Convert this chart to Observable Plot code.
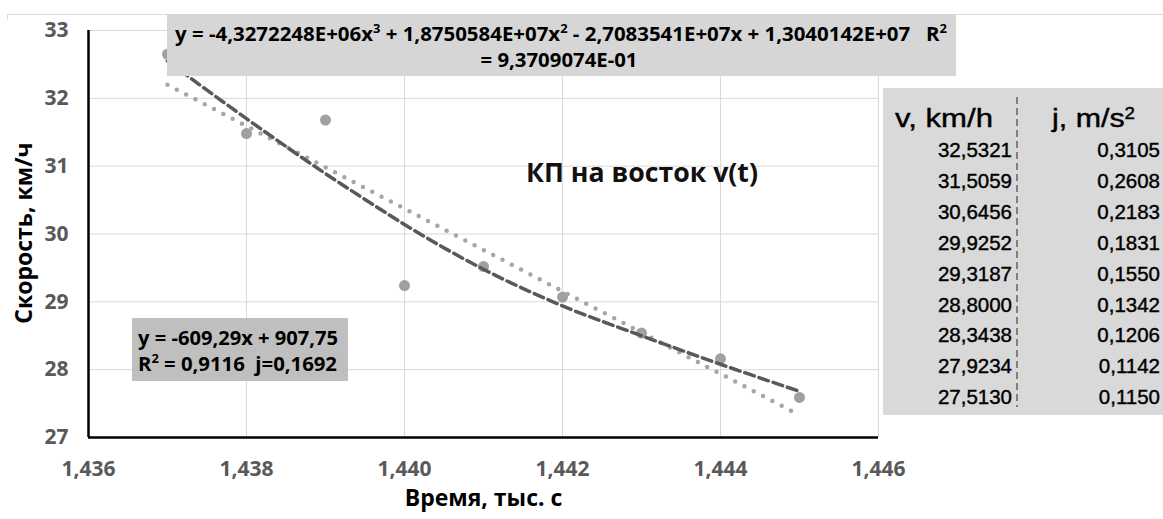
<!DOCTYPE html>
<html>
<head>
<meta charset="utf-8">
<script src="https://cdn.jsdelivr.net/npm/d3@7"></script>
<script src="https://cdn.jsdelivr.net/npm/@observablehq/plot@0.6"></script>
<style>
  html, body { margin: 0; padding: 0; background: #fff; }
  #wrap { position: relative; width: 1163px; height: 519px; overflow: hidden; }
  #wrap svg { display: block; }
</style>
</head>
<body>
<div id="wrap"></div>
<script>
// ---- data ----
const times = [1.437, 1.438, 1.439, 1.440, 1.441, 1.442, 1.443, 1.444, 1.445];
const speeds = [32.65, 31.48, 31.68, 29.24, 29.52, 29.07, 28.54, 28.16, 27.59];

// cubic (polynomial) trend line
const cubicTimes = [1.437, 1.4375, 1.438, 1.4385, 1.439, 1.4395, 1.440, 1.441, 1.442, 1.443, 1.444, 1.445];
const cubicSpeeds = [32.55, 32.12, 31.70, 31.29, 30.89, 30.51, 30.14, 29.48, 28.94, 28.50, 28.08, 27.68];

// linear trend line, read at its two ends (dotted)
const linearTimes = [1.437, 1.445];
const linearSpeeds = [32.20, 27.33];

const xTicks = [1.436, 1.438, 1.440, 1.442, 1.444, 1.446];
const yTicks = [27, 28, 29, 30, 31, 32, 33];

const xTitle = "Время, тыс. с";
const yTitle = "Скорость, км/ч";
const chartTitle = "КП на восток v(t)";

const cubicEqLine1 = ["y = -4,3272248E+06x", "3", " + 1,8750584E+07x", "2", " - 2,7083541E+07x + 1,3040142E+07   R", "2"];
const cubicEqLine2 = "= 9,3709074E-01";
const linearEqLine1 = "y = -609,29x + 907,75";
const linearEqLine2 = ["R", "2", " = 0,9116  j=0,1692"];

const tableHeadV = "v, km/h";
const tableHeadJ = ["j, m/s", "2"];
const tableV = ["32,5321", "31,5059", "30,6456", "29,9252", "29,3187", "28,8000", "28,3438", "27,9234", "27,5130"];
const tableJ = ["0,3105", "0,2608", "0,2183", "0,1831", "0,1550", "0,1342", "0,1206", "0,1142", "0,1150"];

// ---- tables for the library ----
const points = times.map((t, i) => ({t, v: speeds[i]}));
const cubic = cubicTimes.map((t, i) => ({t, v: cubicSpeeds[i]}));
const linear = linearTimes.map((t, i) => ({t, v: linearSpeeds[i]}));
const fmtX = d => d3.format(".3f")(d).replace(".", ",");
const fmtY = d => String(d);

const font = "'Open Sans', 'Noto Sans', sans-serif";

const chart = Plot.plot({
  width: 1163,
  height: 519,
  marginLeft: 88,
  marginRight: 285,
  marginTop: 30,
  marginBottom: 82,
  style: {fontFamily: font, background: "transparent", overflow: "visible"},
  x: {domain: [1.436, 1.446]},
  y: {domain: [27, 33]},
  marks: [
    Plot.gridX(xTicks.slice(1), {stroke: "#d9d9d9", strokeOpacity: 1, strokeWidth: 1}),
    Plot.gridY(yTicks.slice(1), {stroke: "#d9d9d9", strokeOpacity: 1, strokeWidth: 1}),
    Plot.axisX(xTicks, {tickSize: 0, tickPadding: 24, fontSize: 21, fontWeight: "bold", fill: "#595959", label: null, tickFormat: fmtX}),
    Plot.axisY(yTicks, {tickSize: 0, tickPadding: 20, fontSize: 21, fontWeight: "bold", fill: "#595959", label: null, tickFormat: fmtY}),
    Plot.dot(points, {x: "t", y: "v", r: 5.5, fill: "#a0a0a0", stroke: "none"}),
    Plot.line(linear, {x: "t", y: "v", stroke: "#a6a6a6", strokeWidth: 4.5, strokeDasharray: "0 10.5", strokeLinecap: "round"}),
    Plot.line(cubic, {x: "t", y: "v", curve: "monotone-x", stroke: "#595959", strokeWidth: 3.5, strokeDasharray: "10 5"}),
    Plot.ruleY([27], {stroke: "#000", strokeWidth: 2.5}),
    Plot.ruleX([1.436], {stroke: "#000", strokeWidth: 2.5}),
    Plot.text([yTitle], {frameAnchor: "left", textAnchor: "middle", dx: -64, dy: -1, rotate: -90, fontSize: 23, fontWeight: "bold", fill: "#000", fontFamily: font}),
    Plot.text([xTitle], {frameAnchor: "bottom", textAnchor: "middle", dy: 68, fontSize: 23, fontWeight: "bold", fill: "#000", fontFamily: font})
  ]
});
const wrap = document.getElementById("wrap");
wrap.appendChild(chart);

// ---- annotation overlay ----
const ov = d3.select(wrap).append("svg")
  .attr("width", 1163).attr("height", 519)
  .style("position", "absolute").style("left", "0px").style("top", "0px")
  .style("pointer-events", "none");

// chart border remnant
ov.append("path").attr("d", "M7.5,20V14.5H1163").attr("fill", "none").attr("stroke", "#d9d9d9").attr("stroke-width", 1);

function supText(sel, parts, supSize) {
  sel.attr("xml:space", "preserve").style("white-space", "pre");
  parts.forEach((p, i) => {
    const ts = sel.append("tspan").text(p);
    if (i % 2 === 1) ts.attr("font-size", supSize).attr("baseline-shift", "super");
  });
}

// cubic equation box
ov.append("rect").attr("x", 167).attr("y", 14).attr("width", 789).attr("height", 62).attr("fill", "#d6d6d6");
const eq1 = ov.append("text").attr("x", 561).attr("y", 41).attr("text-anchor", "middle")
  .attr("font-family", font).attr("font-weight", "bold").attr("font-size", 19).attr("fill", "#000");
supText(eq1, cubicEqLine1, 12);
eq1.attr("textLength", 772).attr("lengthAdjust", "spacingAndGlyphs");
ov.append("text").attr("x", 559).attr("y", 67).attr("text-anchor", "middle")
  .attr("font-family", font).attr("font-weight", "bold").attr("font-size", 19).attr("fill", "#000")
  .attr("textLength", 157).attr("lengthAdjust", "spacingAndGlyphs")
  .text(cubicEqLine2);

// linear equation box
ov.append("rect").attr("x", 132).attr("y", 318).attr("width", 216).attr("height", 63).attr("fill", "#bfbfbf");
ov.append("text").attr("x", 138).attr("y", 345)
  .attr("font-family", font).attr("font-weight", "bold").attr("font-size", 19).attr("fill", "#000")
  .attr("textLength", 200).attr("lengthAdjust", "spacingAndGlyphs")
  .text(linearEqLine1);
const l2 = ov.append("text").attr("x", 138).attr("y", 371)
  .attr("font-family", font).attr("font-weight", "bold").attr("font-size", 19).attr("fill", "#000");
supText(l2, linearEqLine2, 12);
l2.attr("textLength", 199).attr("lengthAdjust", "spacingAndGlyphs");

// chart title
ov.append("text").attr("x", 526).attr("y", 182)
  .attr("font-family", font).attr("font-weight", "bold").attr("font-size", 26).attr("fill", "#111")
  .attr("textLength", 232).attr("lengthAdjust", "spacingAndGlyphs")
  .text(chartTitle);

// table
const tfont = "'Liberation Sans', Arial, sans-serif";
ov.append("rect").attr("x", 883).attr("y", 88).attr("width", 280).attr("height", 327).attr("fill", "#d9d9d9");
ov.append("line").attr("x1", 1017).attr("x2", 1017).attr("y1", 97).attr("y2", 407)
  .attr("stroke", "#7f7f7f").attr("stroke-width", 2).attr("stroke-dasharray", "7 4");
ov.append("text").attr("x", 895).attr("y", 127)
  .attr("font-family", tfont).attr("font-size", 26).attr("fill", "#000")
  .attr("stroke", "#000").attr("stroke-width", 0.4)
  .attr("textLength", 98).attr("lengthAdjust", "spacingAndGlyphs")
  .text(tableHeadV);
const hj = ov.append("text").attr("x", 1052).attr("y", 127)
  .attr("font-family", tfont).attr("font-size", 26).attr("fill", "#000")
  .attr("stroke", "#000").attr("stroke-width", 0.4);
supText(hj, tableHeadJ, 16);
hj.attr("textLength", 83).attr("lengthAdjust", "spacingAndGlyphs");
tableV.forEach((s, i) => {
  ov.append("text").attr("x", 1012).attr("y", 157 + i * 30.9).attr("text-anchor", "end")
    .attr("font-family", tfont).attr("font-size", 20.5).attr("fill", "#000")
    .attr("stroke", "#000").attr("stroke-width", 0.4).text(s);
  ov.append("text").attr("x", 1160).attr("y", 157 + i * 30.9).attr("text-anchor", "end")
    .attr("font-family", tfont).attr("font-size", 20.5).attr("fill", "#000")
    .attr("stroke", "#000").attr("stroke-width", 0.4).text(tableJ[i]);
});
</script>
</body>
</html>
